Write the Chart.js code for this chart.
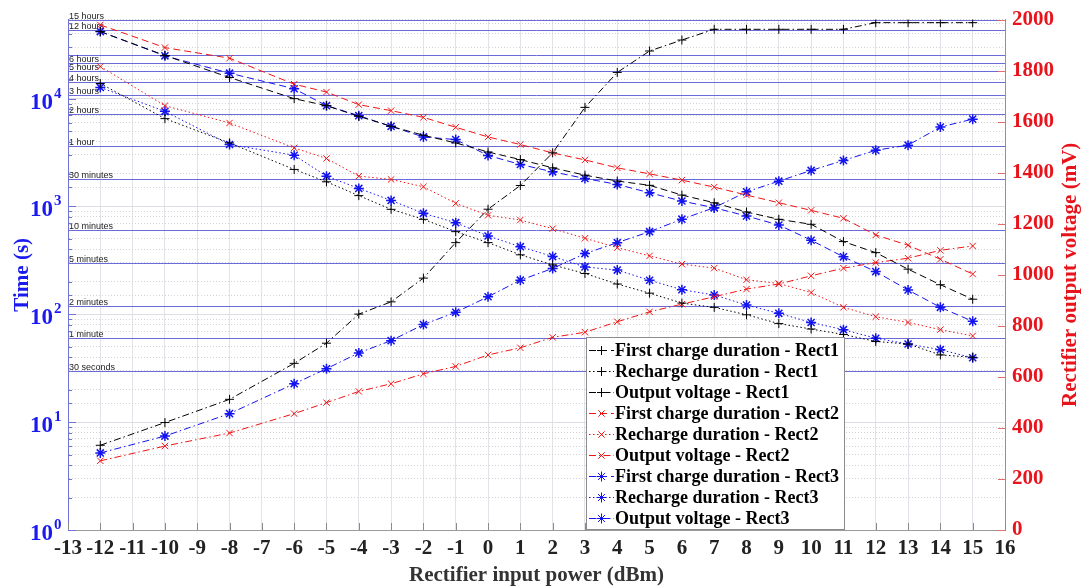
<!DOCTYPE html>
<html>
<head>
<meta charset="utf-8">
<script src="https://cdn.jsdelivr.net/npm/chart.js@4.4.1/dist/chart.umd.min.js"></script>
<style>
  html, body { margin: 0; padding: 0; background: #fff; }
  #wrap { width: 1083px; height: 588px; position: relative; }
</style>
</head>
<body>
<div id="wrap"><canvas id="chart"></canvas></div>
<script>
// x values (dBm)
const powerDbm = [-12, -10, -8, -6, -5, -4, -3, -2, -1, 0, 1, 2, 3, 4, 5, 6, 7, 8, 9, 10, 11, 12, 13, 14, 15];

// durations in seconds (left, log axis)
const firstChargeRect1 = [41800, 25100, 15700, 9980, 8600, 6850, 5530, 4570, 3880, 3200, 2720, 2280, 1950, 1720, 1570, 1275, 1082, 888, 760, 683, 472, 373, 262, 188, 138];
const rechargeRect1 = [13800, 6520, 3880, 2203, 1692, 1260, 940, 760, 584, 462, 356, 287, 239, 191, 157, 127, 116, 99, 82, 73, 65, 56, 53, 42, 40];
const firstChargeRect2 = [48200, 29700, 23700, 13600, 11500, 8790, 7730, 6700, 5420, 4410, 3750, 3135, 2700, 2280, 2005, 1754, 1511, 1275, 1082, 920, 776, 544, 437, 324, 236];
const rechargeRect2 = [19850, 8600, 5940, 3490, 2785, 1910, 1780, 1521, 1068, 827, 749, 622, 507, 415, 348, 292, 268, 209, 193, 159, 116, 95, 84, 72, 63];
const firstChargeRect3 = [41800, 24900, 17200, 12340, 8600, 6950, 5530, 4410, 4170, 2970, 2450, 2094, 1818, 1600, 1339, 1122, 973, 815, 673, 486, 341, 249, 168, 116, 86];
const rechargeRect3 = [12690, 7620, 3750, 2985, 1910, 1470, 1138, 863, 707, 532, 424, 343, 275, 257, 207, 169, 151, 122, 102, 84, 72, 60, 53, 47, 39.5];

// output voltage in mV (right axis)
const voltageRect1 = [332, 421, 512, 653, 732, 846, 894, 987, 1126, 1257, 1350, 1478, 1656, 1793, 1877, 1920, 1962, 1962, 1962, 1962, 1962, 1988, 1988, 1988, 1988];
const voltageRect2 = [271, 329, 380, 456, 499, 543, 573, 612, 641, 686, 714, 755, 775, 816, 855, 885, 914, 944, 964, 996, 1026, 1048, 1065, 1096, 1113];
const voltageRect3 = [302, 368, 456, 573, 632, 694, 742, 805, 853, 914, 979, 1025, 1083, 1126, 1169, 1218, 1263, 1325, 1367, 1409, 1448, 1488, 1508, 1579, 1610];

// reference durations drawn as horizontal lines
const durationMarks = [54000, 43200, 25200, 21600, 18000, 14400, 10800, 7200, 3600, 1800, 600, 300, 120, 60, 30];
const durationLabels = ['15 hours', '12 hours', '', '6 hours', '5 hours', '4 hours', '3 hours', '2 hours', '1 hour', '30 minutes', '10 minutes', '5 minutes', '2 minutes', '1 minute', '30 seconds'];

const voltageTicks = [0, 200, 400, 600, 800, 1000, 1200, 1400, 1600, 1800, 2000];
const timeExponents = [0, 1, 2, 3, 4];

const SERIF = '"Liberation Serif", "Times New Roman", serif';
const BLACK = '#000000', RED = '#f01414', BLUE = '#1414f0';
const DASHED = [7, 4], DOTTED = [1.5, 2.5], DASHDOT = [7, 3, 1.5, 3];

function pts(vals) {
  return powerDbm.map((x, i) => ({ x, y: vals[i] }));
}

function series(label, vals, axis, color, dash, style) {
  return {
    label,
    data: pts(vals),
    yAxisID: axis,
    borderColor: color,
    backgroundColor: color,
    borderWidth: 1,
    borderDash: dash,
    pointStyle: style,
    pointRadius: style === 'star' ? 5 : 4.5,
    pointBorderWidth: style === 'star' ? 1.5 : 1,
    pointBorderColor: color,
    fill: false,
    tension: 0,
  };
}

const datasets = [
  series('First charge duration - Rect1', firstChargeRect1, 'y', BLACK, DASHED, 'cross'),
  series('Recharge duration - Rect1', rechargeRect1, 'y', BLACK, DOTTED, 'cross'),
  series('Output voltage - Rect1', voltageRect1, 'y1', BLACK, DASHDOT, 'cross'),
  series('First charge duration - Rect2', firstChargeRect2, 'y', RED, DASHED, 'crossRot'),
  series('Recharge duration - Rect2', rechargeRect2, 'y', RED, DOTTED, 'crossRot'),
  series('Output voltage - Rect2', voltageRect2, 'y1', RED, DASHDOT, 'crossRot'),
  series('First charge duration - Rect3', firstChargeRect3, 'y', BLUE, DASHED, 'star'),
  series('Recharge duration - Rect3', rechargeRect3, 'y', BLUE, DOTTED, 'star'),
  series('Output voltage - Rect3', voltageRect3, 'y1', BLUE, DASHDOT, 'star'),
];

// reference lines, inward ticks, 10^n labels, right title and boxed legend
const overlay = {
  id: 'overlay',
  beforeDatasetsDraw(chart) {
    const { ctx, chartArea: a, scales: { y } } = chart;
    ctx.save();
    ctx.setLineDash([]);
    ctx.strokeStyle = '#6a6ad8';
    ctx.lineWidth = 1;
    ctx.font = '9px "Liberation Sans", Arial, sans-serif';
    ctx.fillStyle = '#222';
    ctx.textBaseline = 'bottom';
    durationMarks.forEach((sec, i) => {
      const py = Math.round(y.getPixelForValue(sec)) + 0.5;
      ctx.beginPath();
      ctx.moveTo(a.left, py);
      ctx.lineTo(a.right, py);
      ctx.stroke();
      if (durationLabels[i]) ctx.fillText(durationLabels[i], a.left + 1, py + 1);
    });
    ctx.restore();
  },
  afterDraw(chart) {
    const { ctx, chartArea: a, scales: { x, y, y1 } } = chart;
    ctx.save();
    ctx.lineWidth = 1;
    ctx.setLineDash([]);

    // inward tick marks
    ctx.strokeStyle = '#8a8a8a';
    x.ticks.forEach(t => {
      const px = Math.round(x.getPixelForValue(t.value)) + 0.5;
      ctx.beginPath(); ctx.moveTo(px, a.bottom); ctx.lineTo(px, a.bottom - 7); ctx.stroke();
    });
    ctx.strokeStyle = '#7272d4';
    y.ticks.forEach(t => {
      const py = Math.round(y.getPixelForValue(t.value)) + 0.5;
      const len = t.major ? 8 : 4;
      ctx.beginPath(); ctx.moveTo(a.left, py); ctx.lineTo(a.left + len, py); ctx.stroke();
    });
    ctx.strokeStyle = '#e07070';
    voltageTicks.forEach(v => {
      const py = Math.round(y1.getPixelForValue(v)) + 0.5;
      ctx.beginPath(); ctx.moveTo(a.right, py); ctx.lineTo(a.right - 7, py); ctx.stroke();
    });

    // 10^n labels on the left axis
    ctx.fillStyle = '#1a1af0';
    timeExponents.forEach(e => {
      const py = y.getPixelForValue(Math.pow(10, e));
      ctx.font = 'bold 23px ' + SERIF;
      ctx.textAlign = 'right';
      ctx.textBaseline = 'alphabetic';
      ctx.fillText('10', 53, py + 10);
      ctx.font = 'bold 15px ' + SERIF;
      ctx.textAlign = 'left';
      ctx.fillText(String(e), 54, py - 1);
    });

    // right axis title, reading bottom to top
    ctx.save();
    ctx.translate(1071, (a.top + a.bottom) / 2);
    ctx.rotate(-Math.PI / 2);
    ctx.font = 'bold 21px ' + SERIF;
    ctx.fillStyle = '#e8141c';
    ctx.textAlign = 'center';
    ctx.textBaseline = 'middle';
    ctx.fillText('Rectifier output voltage (mV)', 0, 0);
    ctx.restore();

    // legend box
    const bx = 586.5, by = 337.5, bw = 258, bh = 192;
    ctx.fillStyle = '#fff';
    ctx.fillRect(bx, by, bw, bh);
    ctx.strokeStyle = '#8c8c8c';
    ctx.strokeRect(bx, by, bw, bh);
    chart.data.datasets.forEach((ds, i) => {
      const ry = 350.5 + i * 21;
      ctx.strokeStyle = ds.borderColor;
      ctx.lineWidth = 1;
      ctx.setLineDash(ds.borderDash);
      ctx.beginPath(); ctx.moveTo(589, ry); ctx.lineTo(614, ry); ctx.stroke();
      ctx.setLineDash([]);
      Chart.helpers.drawPoint(ctx, {
        pointStyle: ds.pointStyle, radius: ds.pointRadius, rotation: 0, borderWidth: ds.pointBorderWidth,
      }, 601.5, ry);
      ctx.fillStyle = '#000';
      ctx.font = 'bold 18px ' + SERIF;
      ctx.textAlign = 'left';
      ctx.textBaseline = 'middle';
      ctx.fillText(ds.label, 615, ry + 1);
    });
    ctx.restore();
  },
};

new Chart(document.getElementById('chart'), {
  type: 'line',
  data: { datasets },
  plugins: [overlay],
  options: {
    responsive: true,
    maintainAspectRatio: false,
    animation: false,
    layout: { padding: { top: 18, left: 0, right: 0, bottom: 0 } },
    plugins: {
      legend: { display: false },
      tooltip: { enabled: false },
    },
    scales: {
      x: {
        type: 'linear',
        position: 'bottom',
        min: -13,
        max: 16,
        ticks: {
          stepSize: 1,
          autoSkip: false,
          maxRotation: 0,
          minRotation: 0,
          color: '#222',
          padding: 6,
          font: { family: SERIF, size: 21, weight: 'bold' },
        },
        grid: { color: '#e2e2e8', drawTicks: false },
        border: { color: '#9a9a9a' },
        title: {
          display: true,
          text: 'Rectifier input power (dBm)',
          color: '#333',
          padding: 0,
          font: { family: SERIF, size: 21, weight: 'bold' },
        },
        afterFit(s) { s.height = 58; },
      },
      y: {
        type: 'logarithmic',
        position: 'left',
        min: 1,
        max: 54000,
        ticks: { display: false, autoSkip: false },
        grid: {
          drawTicks: false,
          color: ctx => (ctx.tick && ctx.tick.major ? '#dcdce2' : '#d2d2d2'),
        },
        border: {
          color: '#7272d4',
          dash: ctx => (ctx.tick && ctx.tick.major ? [] : [1, 2]),
        },
        title: {
          display: true,
          text: 'Time (s)',
          color: '#1a1af0',
          padding: { top: 10, bottom: 0 },
          font: { family: SERIF, size: 21, weight: 'bold' },
        },
        afterFit(s) { s.width = 68; },
      },
      y1: {
        type: 'linear',
        position: 'right',
        min: 0,
        max: 2000,
        ticks: {
          stepSize: 200,
          color: '#e8141c',
          padding: 7,
          font: { family: SERIF, size: 21, weight: 'bold' },
          callback: v => String(v),
        },
        grid: { drawOnChartArea: false, drawTicks: false },
        border: { color: '#e07070' },
        afterFit(s) { s.width = 78; },
      },
    },
  },
});
</script>
</body>
</html>
